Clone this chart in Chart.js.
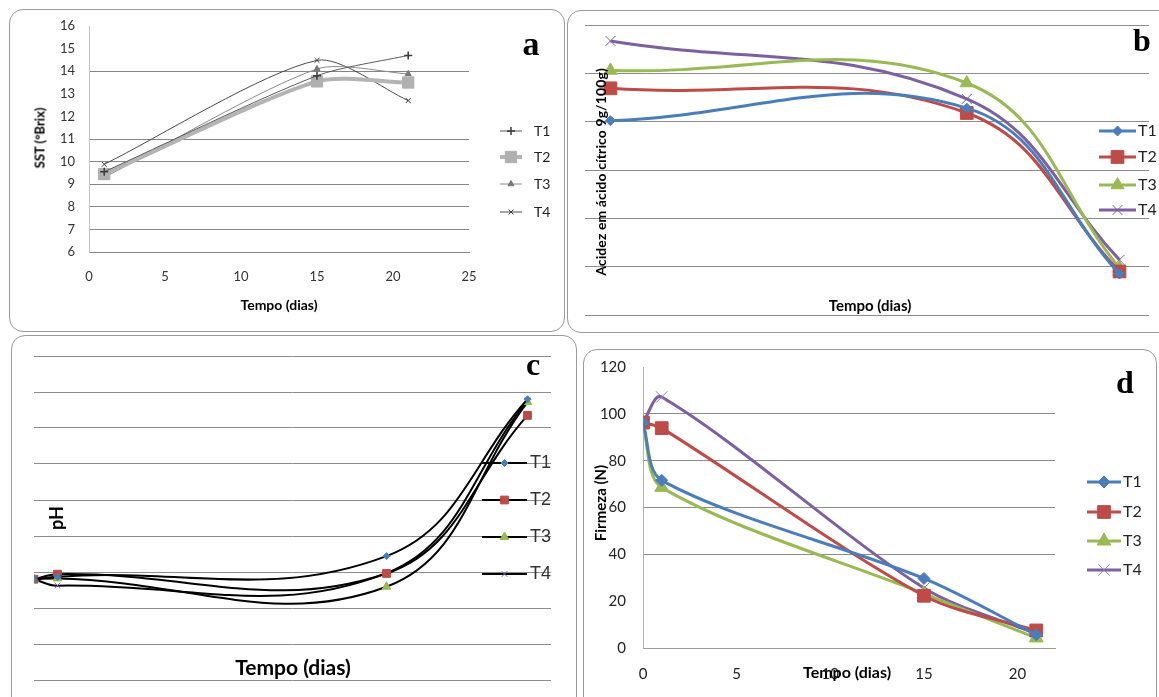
<!DOCTYPE html>
<html>
<head>
<meta charset="utf-8">
<script src="https://cdn.jsdelivr.net/npm/chart.js@4/dist/chart.umd.min.js"></script>
<style>
  html, body { margin:0; padding:0; background:#fff; }
  body { width:1159px; height:697px; position:relative; overflow:hidden; font-family:Lato, "Liberation Sans", sans-serif; }
  .box { position:absolute; border:1.5px solid #9a9a9a; border-radius:14px; background:#fff; box-sizing:border-box; }
  canvas.layer { position:absolute; left:0; top:0; }
  .t { position:absolute; white-space:nowrap; transform:translate(-50%,-50%); color:#000; font-weight:bold; line-height:1; }
  .r { transform:translate(-50%,-50%) rotate(-90deg); }
  .letter { font-family:"Liberation Serif","DejaVu Serif",serif; font-weight:bold; }
</style>
</head>
<body>
<div class="box" style="left:9px;top:9px;width:556px;height:323px"></div>
<div class="box" style="left:567px;top:10px;width:620px;height:323px"></div>
<div class="box" style="left:11px;top:335px;width:566px;height:420px"></div>
<div class="box" style="left:583px;top:349px;width:574px;height:420px"></div>

<canvas id="chartA" class="layer" width="1159" height="697"></canvas>
<canvas id="chartB" class="layer" width="1159" height="697"></canvas>
<canvas id="chartC" class="layer" width="1159" height="697"></canvas>
<canvas id="chartD" class="layer" width="1159" height="697"></canvas>

<div class="t r" style="left:40px;top:138px;font-size:13px">SST (°Brix)</div>
<div class="t" style="left:279px;top:305px;font-size:14px">Tempo (dias)</div>
<div class="t letter" style="left:531px;top:44px;font-size:34px">a</div>

<div class="t r" style="left:601px;top:172px;font-size:14px;letter-spacing:0.1px">Acidez em ácido cítrico 9g/100g)</div>
<div class="t" style="left:870px;top:305px;font-size:15px">Tempo (dias)</div>
<div class="t letter" style="left:1142px;top:40px;font-size:32px">b</div>

<div class="t r" style="left:56px;top:518px;font-size:18px">pH</div>
<div class="t" style="left:293px;top:666px;font-size:21px">Tempo (dias)</div>
<div class="t letter" style="left:533px;top:364px;font-size:32px">c</div>

<div class="t r" style="left:600px;top:503px;font-size:15px">Firmeza (N)</div>
<div class="t" style="left:847px;top:672px;font-size:16px">Tempo (dias)</div>
<div class="t letter" style="left:1125px;top:382px;font-size:32px">d</div>

<script>
// ---------- data ----------
const seriesNames = ['T1', 'T2', 'T3', 'T4'];

// a: SST (°Brix)
const daysA = [1, 15, 21];
const sstT1 = [9.55, 13.8, 14.7];
const sstT2 = [9.45, 13.55, 13.5];
const sstT3 = [9.3, 14.1, 13.88];
const sstT4 = [9.88, 14.48, 12.7];
const ticksA_x = [0, 5, 10, 15, 20, 25];
const ticksA_y = [6, 7, 8, 9, 10, 11, 12, 13, 14, 15, 16];

// b: acidity
const daysB = [1, 15, 21];
const acidT1 = [0.402, 0.428, 0.085];
const acidT2 = [0.469, 0.418, 0.090];
const acidT3 = [0.506, 0.480, 0.097];
const acidT4 = [0.567, 0.447, 0.114];

// c: pH
const daysC = [0, 1, 15, 21];
const phT1 = [3.28, 3.287, 3.344, 3.78];
const phT2 = [3.28, 3.294, 3.296, 3.735];
const phT3 = [3.28, 3.282, 3.259, 3.772];
const phT4 = [3.28, 3.262, 3.297, 3.776];

// d: firmness (N)
const daysD = [0, 1, 15, 21];
const firmT1 = [96.3, 71.6, 29.7, 5.7];
const firmT2 = [96.3, 93.9, 22.3, 7.5];
const firmT3 = [95.3, 68.6, 23.2, 4.3];
const firmT4 = [96.3, 107.2, 25.6, 6.1];
const ticksD_x = [0, 5, 10, 15, 20];
const ticksD_y = [0, 20, 40, 60, 80, 100, 120];

// ---------- helpers ----------
const pts = (xs, ys) => xs.map((x, i) => ({ x: x, y: ys[i] }));
const fixW = w => s => { s.width = w; };
const fixH = h => s => { s.height = h; };

const sideLegend = {
  id: 'sideLegend',
  afterDraw(chart, args, o) {
    const ctx = chart.ctx;
    chart.data.datasets.forEach((ds, i) => {
      const y = o.ys[i];
      ctx.save();
      ctx.strokeStyle = ds.borderColor;
      ctx.lineWidth = ds.borderWidth;
      ctx.beginPath(); ctx.moveTo(o.x0, y); ctx.lineTo(o.x1, y); ctx.stroke();
      ctx.fillStyle = ds.pointBackgroundColor;
      ctx.strokeStyle = ds.pointBorderColor;
      ctx.lineWidth = ds.pointBorderWidth;
      Chart.helpers.drawPoint(ctx, { pointStyle: ds.pointStyle, radius: ds.pointRadius, rotation: 0, borderWidth: ds.pointBorderWidth }, (o.x0 + o.x1) / 2, y);
      ctx.fillStyle = o.color;
      ctx.font = o.font;
      ctx.textBaseline = 'middle';
      ctx.textAlign = 'left';
      ctx.fillText(ds.label, o.tx, y);
      ctx.restore();
    });
  }
};

function mkDs(label, data, color, width, style, radius, pColor, pbw, tension) {
  return {
    label: label, data: data, borderColor: color, borderWidth: width,
    pointStyle: style, pointRadius: radius, pointHoverRadius: radius,
    pointBackgroundColor: pColor, pointBorderColor: pColor, pointBorderWidth: pbw,
    tension: tension, fill: false
  };
}

Chart.defaults.font.family = 'Lato, "Liberation Sans", sans-serif';
Chart.defaults.animation = false;
Chart.defaults.responsive = false;
Chart.defaults.devicePixelRatio = 1;
Chart.defaults.plugins.legend.display = false;
Chart.defaults.plugins.tooltip.enabled = false;
Chart.defaults.elements.line.capBezierPoints = false;

const near = (v, arr) => arr.some(a => Math.abs(a - v) < 1e-6);

// ---------- chart a ----------
new Chart(document.getElementById('chartA'), {
  type: 'line',
  data: { datasets: [
    mkDs(seriesNames[0], pts(daysA, sstT1), '#5a5a5a', 1, 'cross', 4, '#3a3a3a', 1.5, 0.25),
    mkDs(seriesNames[1], pts(daysA, sstT2), '#b4b4b4', 4, 'rect', 8, '#b0b0b0', 1, 0.25),
    mkDs(seriesNames[2], pts(daysA, sstT3), '#8a8a8a', 1, 'triangle', 3.5, '#777777', 1, 0.25),
    mkDs(seriesNames[3], pts(daysA, sstT4), '#4a4a4a', 1, 'crossRot', 3.5, '#3a3a3a', 1, 0.25)
  ]},
  options: {
    layout: { padding: { left: 29, top: 26, right: 690, bottom: 405 } },
    scales: {
      x: { type: 'linear', min: ticksA_x[0], max: ticksA_x[ticksA_x.length - 1],
           afterFit: fixH(40),
           afterBuildTicks: a => { a.ticks = ticksA_x.map(v => ({ value: v })); },
           grid: { display: false, drawTicks: false },
           border: { display: true, color: '#858585', width: 1 },
           ticks: { padding: 17, color: '#333', font: { size: 13 }, maxRotation: 0, autoSkip: false } },
      y: { min: ticksA_y[0], max: ticksA_y[ticksA_y.length - 1],
           afterFit: fixW(60),
           afterBuildTicks: a => { a.ticks = ticksA_y.map(v => ({ value: v })); },
           grid: { drawTicks: false, color: c => near(c.tick.value, [7, 8, 9, 10, 11, 14]) ? '#858585' : 'rgba(0,0,0,0)' },
           border: { display: true, color: '#c4c4c4', width: 1 },
           ticks: { padding: 14, color: '#333', font: { size: 13 }, autoSkip: false } }
    },
    plugins: { sideLegend: { x0: 500, x1: 522, tx: 534, ys: [131, 157, 184, 212], color: '#222', font: '14px Lato, sans-serif' } }
  },
  plugins: [sideLegend]
});

// ---------- chart b ----------
new Chart(document.getElementById('chartB'), {
  type: 'line',
  data: { datasets: [
    mkDs(seriesNames[0], pts(daysB, acidT1), '#4A7EBB', 3, 'rectRot', 5, '#4A7EBB', 1, 0.4),
    mkDs(seriesNames[1], pts(daysB, acidT2), '#BE4B48', 3, 'rect', 9, '#BE4B48', 1, 0.4),
    mkDs(seriesNames[2], pts(daysB, acidT3), '#98B954', 3, 'triangle', 7.5, '#98B954', 1, 0.4),
    mkDs(seriesNames[3], pts(daysB, acidT4), '#7D60A0', 3, 'crossRot', 7, '#7D60A0', 1, 0.4)
  ]},
  options: {
    layout: { padding: { left: 585, top: 25, right: 0, bottom: 382 } },
    scales: {
      x: { type: 'linear', min: 0, max: 22.16, display: false },
      y: { min: 0, max: 0.6, afterFit: fixW(0),
           ticks: { display: false, stepSize: 0.1 },
           grid: { drawTicks: false, color: '#8c8c8c' },
           border: { display: false } }
    },
    plugins: { sideLegend: { x0: 1099, x1: 1136, tx: 1138, ys: [131, 157, 185, 210], color: '#222', font: '16px Lato, sans-serif' } }
  },
  plugins: [sideLegend]
});

// ---------- chart c ----------
new Chart(document.getElementById('chartC'), {
  type: 'line',
  data: { datasets: [
    mkDs(seriesNames[0], pts(daysC, phT1), '#000000', 2, 'rectRot', 3.5, '#4A7EBB', 1, 0.4),
    mkDs(seriesNames[1], pts(daysC, phT2), '#000000', 2, 'rect', 5.5, '#BE4B48', 1, 0.4),
    mkDs(seriesNames[2], pts(daysC, phT3), '#000000', 2, 'triangle', 5, '#98B954', 1, 0.4),
    mkDs(seriesNames[3], pts(daysC, phT4), '#000000', 2, 'crossRot', 4, '#8064A2', 1, 0.4)
  ]},
  options: {
    layout: { padding: { left: 34, top: 356, right: 608, bottom: 17 } },
    scales: {
      x: { type: 'linear', min: 0, max: 22, display: false },
      y: { min: 3.0, max: 3.9, afterFit: fixW(0),
           ticks: { display: false, stepSize: 0.1 },
           grid: { drawTicks: false, color: '#8c8c8c' },
           border: { display: false } }
    },
    plugins: { sideLegend: { x0: 482, x1: 527, tx: 530, ys: [463, 500, 537, 574], color: '#333', font: '18px "Liberation Sans", sans-serif' } }
  },
  plugins: [sideLegend]
});

// ---------- chart d ----------
new Chart(document.getElementById('chartD'), {
  type: 'line',
  data: { datasets: [
    mkDs(seriesNames[0], pts(daysD, firmT1), '#4A7EBB', 3, 'rectRot', 6, '#4A7EBB', 1, 0.3),
    mkDs(seriesNames[1], pts(daysD, firmT2), '#BE4B48', 3, 'rect', 9, '#BE4B48', 1, 0.3),
    mkDs(seriesNames[2], pts(daysD, firmT3), '#98B954', 3, 'triangle', 8, '#98B954', 1, 0.3),
    mkDs(seriesNames[3], pts(daysD, firmT4), '#7D60A0', 3, 'crossRot', 8, '#8E79B5', 1, 0.3)
  ]},
  options: {
    layout: { padding: { left: 583, top: 367, right: 104, bottom: 9 } },
    scales: {
      x: { type: 'linear', min: 0, max: 22,
           afterFit: fixH(40),
           afterBuildTicks: a => { a.ticks = ticksD_x.map(v => ({ value: v })); },
           grid: { display: false, drawTicks: false },
           border: { display: true, color: '#9a9a9a', width: 1 },
           ticks: { padding: 17, color: '#222', font: { size: 15 }, maxRotation: 0, autoSkip: false } },
      y: { min: ticksD_y[0], max: ticksD_y[ticksD_y.length - 1],
           afterFit: fixW(60),
           afterBuildTicks: a => { a.ticks = ticksD_y.map(v => ({ value: v })); },
           grid: { drawTicks: false, color: c => near(c.tick.value, [40, 60, 80, 100]) ? '#8c8c8c' : 'rgba(0,0,0,0)' },
           border: { display: true, color: '#b0b0b0', width: 1 },
           ticks: { padding: 17, color: '#222', font: { size: 15 }, autoSkip: false } }
    },
    plugins: { sideLegend: { x0: 1087, x1: 1121, tx: 1123, ys: [482, 512, 541, 570], color: '#222', font: '16px Lato, sans-serif' } }
  },
  plugins: [sideLegend]
});
</script>
</body>
</html>
